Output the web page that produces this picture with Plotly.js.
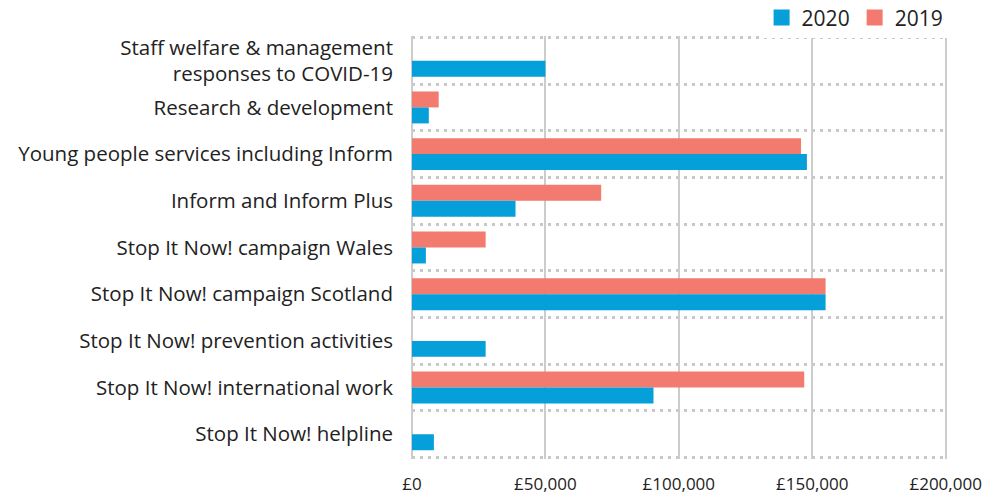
<!DOCTYPE html>
<html>
<head>
<meta charset="utf-8">
<script src="https://cdn.plot.ly/plotly-3.0.1.min.js"></script>
<style>html,body{margin:0;padding:0;background:#fff;}#chart{width:983px;height:496px;}</style>
</head>
<body>
<div id="chart"></div>
<script>
// Categories listed top to bottom
const categories = [
  "Staff welfare & management<br>responses to COVID-19",
  "Research & development",
  "Young people services including Inform",
  "Inform and Inform Plus",
  "Stop It Now! campaign Wales",
  "Stop It Now! campaign Scotland",
  "Stop It Now! prevention activities",
  "Stop It Now! international work",
  "Stop It Now! helpline"
];
const values2020 = [50000, 6300, 148000, 38800, 5200, 155000, 27600, 90500, 8200];
const values2019 = [null, 10000, 145800, 70900, 27600, 155000, null, 147000, null];
const xTickVals = [0, 50000, 100000, 150000, 200000];
const xTickText = xTickVals.map(v => '\u00a3' + v.toLocaleString('en-GB'));

const blue = '#059fd9';
const red = '#f37a6f';
const font = '"Open Sans", Lato, sans-serif';

const n = categories.length;
const idx = categories.map((c, i) => i);

const traces = [
  {type:'bar', orientation:'h', name:'2019', y:idx, x:values2019,
   marker:{color:red}, showlegend:false, hoverinfo:'x'},
  {type:'bar', orientation:'h', name:'2020', y:idx, x:values2020,
   marker:{color:blue}, showlegend:false, hoverinfo:'x'},
  {type:'scatter', mode:'markers', name:'2020', x:[null], y:[null],
   marker:{symbol:'square', size:16, color:blue}, legendrank:1},
  {type:'scatter', mode:'markers', name:'2019', x:[null], y:[null],
   marker:{symbol:'square', size:16, color:red}, legendrank:2}
];

const layout = {
  width:983, height:496,
  margin:{l:412, r:36, t:36, b:37, autoexpand:false},
  paper_bgcolor:'#fff', plot_bgcolor:'#fff',
  font:{family:font, color:'#222', size:20},
  barmode:'group', bargap:0.316, bargroupgap:0,
  showlegend:true,
  legend:{orientation:'h', x:1.003, xanchor:'right', y:1.043, yanchor:'middle',
          font:{size:21, color:'#222'}, itemsizing:'trace', traceorder:'normal',
          itemwidth:30},
  xaxis:{
    range:[0, 200500], tickvals:xTickVals, ticktext:xTickText,
    showgrid:true, gridcolor:'#cccccc', gridwidth:2,
    zeroline:true, zerolinecolor:'#cccccc', zerolinewidth:2,
    showline:false, ticks:'', tickfont:{size:17, color:'#222'},
    ticklabelstandoff:13, ticklabeloverflow:'allow', fixedrange:true
  },
  yaxis:{
    type:'linear', range:[n - 0.5 + 0.03, -0.53],
    tickmode:'array', tickvals:idx, ticktext:categories,
    showgrid:false, zeroline:false, showline:false, ticks:'',
    minor:{tick0:0.5, dtick:1, showgrid:true, gridcolor:'#c8c8c8', gridwidth:3,
           griddash:'3px,5px', ticks:''},
    ticklabelstandoff:18,
    tickfont:{size:20.5, color:'#222'}, fixedrange:true
  }
};

Plotly.newPlot('chart', traces, layout, {displayModeBar:false, staticPlot:true});
</script>
</body>
</html>
